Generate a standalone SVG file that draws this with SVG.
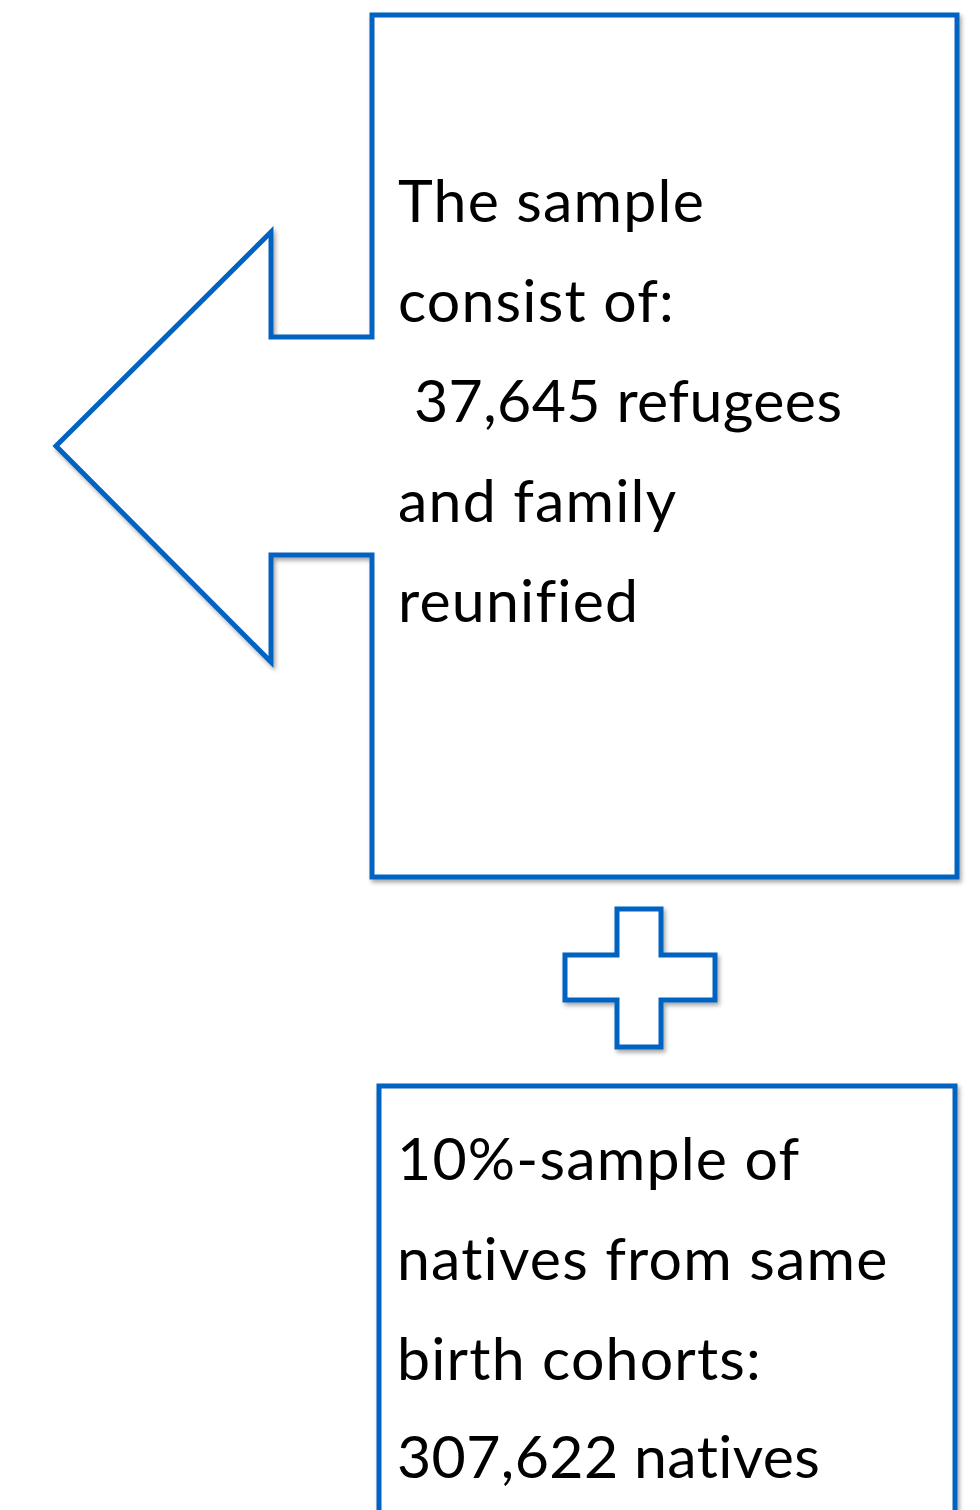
<svg xmlns="http://www.w3.org/2000/svg" width="980" height="1510" viewBox="0 0 980 1510">
<style>
.shape{fill:#ffffff;stroke:#0563C1;stroke-width:5;filter:url(#sh)}
.t{font-family:Lato,"Open Sans","Liberation Sans",sans-serif;font-size:59px;letter-spacing:1.2px;fill:#000000}
.n{letter-spacing:0.4px}
</style>
<defs>
<filter id="sh" x="-10%" y="-10%" width="120%" height="120%">
<feDropShadow dx="2" dy="3" stdDeviation="2" flood-color="#000000" flood-opacity="0.35"/>
</filter>
</defs>
<rect width="980" height="1510" fill="#ffffff"/>
<g id="callout">
<path class="shape" d="M372,15 H957 V877 H372 V555 H271 V662 L56,446 L271,232 V337 H372 Z"/>
<text class="t" x="398" y="222">The sample</text>
<text class="t" x="398" y="322">consist of:</text>
<text class="t n" x="414" y="422">37,645 refugees</text>
<text class="t" x="398" y="522">and family</text>
<text class="t" x="398" y="622">reunified</text>
</g>
<g id="plus">
<path class="shape" d="M617,909 H661 V955 H715 V1000 H661 V1047 H617 V1000 H565 V955 H617 Z"/>
</g>
<g id="natives">
<rect class="shape" x="379" y="1086" width="576" height="460"/>
<text class="t" x="397" y="1180">10%-sample of</text>
<text class="t" x="397" y="1280">natives from same</text>
<text class="t" x="397" y="1380">birth cohorts:</text>
<text class="t n" x="397" y="1478">307,622 natives</text>
</g>
<g id="connectors"></g>
</svg>
